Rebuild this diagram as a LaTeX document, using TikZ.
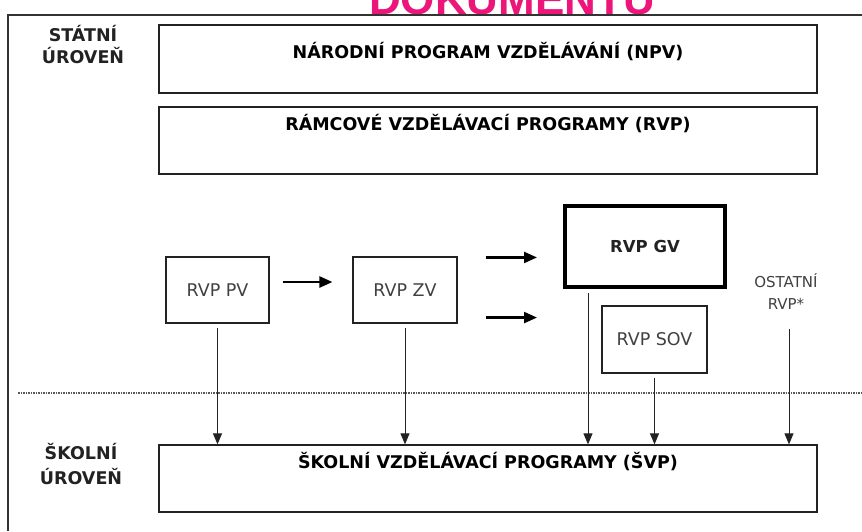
\documentclass[tikz,border=0pt]{standalone}
\usepackage{fontspec}
\setmainfont{DejaVu Sans}
\newfontfamily\titlefont{Liberation Sans}
\usetikzlibrary{arrows.meta}
\definecolor{titlepink}{RGB}{236,22,122}
\definecolor{boxline}{RGB}{34,34,34}
\definecolor{labelgray}{RGB}{64,64,64}

\begin{document}
\begin{tikzpicture}[x=1pt,y=-1pt,
    wide/.style={draw=boxline,line width=1.3pt,minimum width=658pt,inner sep=0pt,
      text height=12pt,font=\fontsize{17.5}{20}\selectfont\bfseries},
    rvpbox/.style={draw=boxline,line width=1.1pt,inner sep=0pt,text=labelgray,
      font=\fontsize{17.5}{21}\selectfont},
    level/.style={align=center,text=boxline,font=\fontsize{17.5}{22}\selectfont\bfseries},
    down/.style={draw=boxline,line width=1pt,-{Triangle[length=11pt,width=9pt]}},
    flow/.style={line width=2.3pt,-{Triangle[length=13pt,width=11pt]}}]
  \useasboundingbox (0,0) rectangle (862,531);
  \begin{scope}
    \clip (0,0) rectangle (862,15);
    \node[anchor=base,text=titlepink,font=\titlefont\fontsize{44}{44}\selectfont\bfseries] (title) at (512,14) {DOKUMENTU};
  \end{scope}

  \draw[line width=1.3pt,gray!40!black] (8,531) -- (8,15) -- (862,15);
  \draw[densely dotted,line width=1.5pt,gray!70!black] (18,393) -- (862,393);

  \node[level] (statni) at (83,45) {STÁTNÍ\\ÚROVEŇ};
  \node[level,font=\fontsize{17.5}{25}\selectfont\bfseries] (skolni) at (81,464) {ŠKOLNÍ\\ÚROVEŇ};

  \node[wide,minimum height=68pt,text depth=14pt] (npv) at (488,59) {NÁRODNÍ PROGRAM VZDĚLÁVÁNÍ (NPV)};
  \node[wide,minimum height=67pt,text depth=33pt] (rvp) at (488,140.5) {RÁMCOVÉ VZDĚLÁVACÍ PROGRAMY (RVP)};
  \node[wide,minimum height=67pt,text depth=33pt] (svp) at (488,478.5) {ŠKOLNÍ VZDĚLÁVACÍ PROGRAMY (ŠVP)};

  \node[rvpbox,minimum width=103pt,minimum height=66pt] (pv) at (217.5,290) {RVP PV};
  \node[rvpbox,minimum width=104pt,minimum height=66pt] (zv) at (405,290) {RVP ZV};
  \node[rvpbox,draw=black,line width=4pt,text=boxline,font=\fontsize{16.5}{20}\selectfont\bfseries,
    minimum width=160pt,minimum height=81pt] (gv) at (645,246.5) {RVP GV};
  \node[rvpbox,minimum width=105pt,minimum height=67pt] (sov) at (654.5,339.5) {RVP SOV};
  \node[align=center,text=labelgray,font=\fontsize{15}{22}\selectfont] (ostatni) at (786,292) {OSTATNÍ\\RVP*};

  \draw[flow,shorten <=13pt,shorten >=20pt] ([yshift=8pt]pv.east) -- ([yshift=8pt]zv.west);
  \draw[flow,shorten <=28pt,shorten >=26pt] ([yshift=-1pt]zv.north east) -- ([yshift=-1pt]zv.north east -| gv.west);
  \draw[flow,shorten <=28pt,shorten >=26pt] ([yshift=6pt]zv.south east) -- ([yshift=6pt]zv.south east -| gv.west);

  \draw[down,shorten <=4pt] (pv) -- (pv |- svp.north);
  \draw[down,shorten <=4pt] (zv) -- (zv |- svp.north);
  \draw[down,shorten <=4pt] ([xshift=25pt]gv.south west) -- ([xshift=25pt]gv.south west |- svp.north);
  \draw[down,shorten <=4pt] (sov) -- (sov |- svp.north);
  \draw[down,shorten <=16pt] ([xshift=3pt]ostatni.south) -- ([xshift=3pt]ostatni.south |- svp.north);
\end{tikzpicture}
\end{document}
